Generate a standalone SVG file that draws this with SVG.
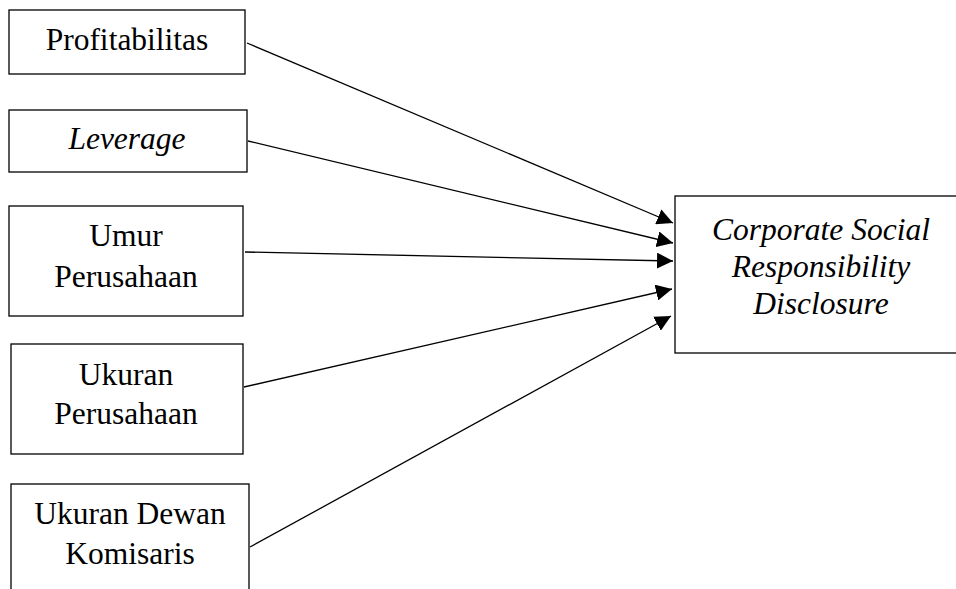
<svg xmlns="http://www.w3.org/2000/svg" width="956" height="589" viewBox="0 0 956 589">
<style>
.box{fill:#fff;stroke:#000;stroke-width:1.3}
.t{font-family:"Liberation Serif","Times New Roman",serif;font-size:31.5px;fill:#000;text-anchor:middle}
.i{font-style:italic}
.c{stroke:#000;stroke-width:1.3;fill:none;marker-end:url(#ah)}
</style>
<defs>
<marker id="ah" viewBox="0 0 10 10" refX="10" refY="5" markerWidth="16" markerHeight="16" markerUnits="userSpaceOnUse" orient="auto">
<path d="M0,0 L10,5 L0,10 z" fill="#000"/>
</marker>
</defs>
<rect width="956" height="589" fill="#fff"/>
<g id="connectors">
<line class="c" x1="247" y1="43" x2="673" y2="223"/>
<line class="c" x1="248" y1="141" x2="673" y2="243"/>
<line class="c" x1="245" y1="252" x2="673" y2="261"/>
<line class="c" x1="244" y1="387" x2="672" y2="289"/>
<line class="c" x1="250" y1="547" x2="671" y2="316"/>
</g>
<g id="n1"><rect class="box" x="9" y="10" width="236" height="64"/><text class="t" x="127" y="50">Profitabilitas</text></g>
<g id="n2"><rect class="box" x="9" y="110" width="238" height="62"/><text class="t i" x="127" y="149">Leverage</text></g>
<g id="n3"><rect class="box" x="9" y="206" width="234" height="110"/><text class="t" x="126" y="246">Umur</text><text class="t" x="126" y="287">Perusahaan</text></g>
<g id="n4"><rect class="box" x="11" y="344" width="232" height="110"/><text class="t" x="126" y="385">Ukuran</text><text class="t" x="126" y="424">Perusahaan</text></g>
<g id="n5"><rect class="box" x="11" y="484" width="238" height="120"/><text class="t" x="130" y="524">Ukuran Dewan</text><text class="t" x="130" y="564">Komisaris</text></g>
<g id="n6"><rect class="box" x="675" y="196" width="290" height="157"/><text class="t i" x="821" y="240">Corporate Social</text><text class="t i" x="821" y="277">Responsibility</text><text class="t i" x="821" y="314">Disclosure</text></g>
</svg>
